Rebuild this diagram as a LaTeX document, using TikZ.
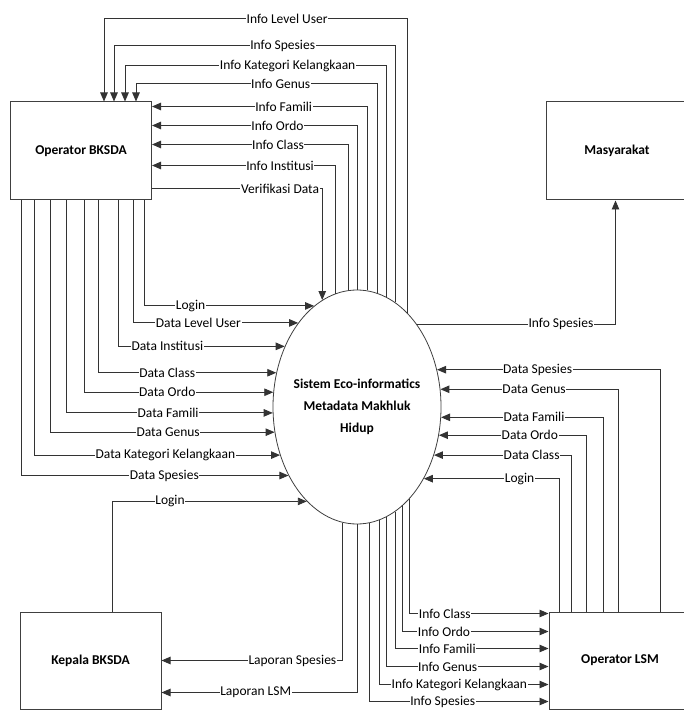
\documentclass[tikz,border=0pt]{standalone}
\usepackage{fontspec}
\setmainfont{Carlito}
\usetikzlibrary{arrows.meta,positioning,shapes.geometric}

\begin{document}
\begin{tikzpicture}[
    x=1pt, y=-1pt,
    ent/.style={draw=black!75, line width=1pt, minimum width=141pt, minimum height=98pt, font=\fontsize{13.5}{16}\selectfont\bfseries},
    proc/.style={draw=black!75, line width=0.8pt, ellipse, minimum width=168pt, minimum height=234pt, inner sep=0pt},
    flow/.style={draw=black!80, line width=0.9pt, -{Triangle[length=9pt,width=7.5pt]}},
    lbl/.style={fill=white, inner sep=0.6pt, font=\fontsize{13.5}{16}\selectfont}
]
\useasboundingbox (0,0) rectangle (684,711);
\clip (0,0) rectangle (684,711);
\fill[white] (0,0) rectangle (684,711);

% entities and process
\node[ent] (opb) at (81,151) {Operator BKSDA};
\node[ent, minimum width=142pt] (mas) at (617,151) {Masyarakat};
\node[ent, minimum height=97pt] (kep) at (90.5,660.5) {Kepala BKSDA};
\node[ent, minimum width=142pt, minimum height=97pt] (lsm) at (620,660.5) {Operator LSM};
\node[proc] (sys) at (357,407) {};
\node[font=\fontsize{13.5}{22}\selectfont\bfseries, align=center] (systxt) at (sys.center) {Sistem Eco-informatics\\Metadata Makhluk\\Hidup};

% Operator BKSDA -> sistem
\foreach \dx/\ang/\p/\txt in {134/113.6/0.637/Login, 123/125.5/0.698/Data Level User,
    108/140.9/0.648/Data Institusi, 88/157.1/0.694/Data Class, 74/170.5/0.72/Data Ordo,
    56/184.1/0.747/Data Famili, 40/197.6/0.763/Data Genus,
    24/212.1/0.767/Data Kategori Kelangkaan, 11/225.5/0.768/Data Spesies}
  \draw[flow] ([xshift=\dx]opb.south west) |- node[lbl, pos=\p] {\txt} (sys.\ang);

% sistem -> Operator BKSDA (top)
\foreach \ang/\dx/\up/\p/\txt in {62.7/94/83/0.698/Info Level User, 70.6/104/56/0.70/Info Spesies,
    75.8/115/36/0.689/Info Kategori Kelangkaan, 80.5/126/18/0.70/Info Genus}
  \draw[flow] (sys.\ang) |- node[lbl, pos=\p] {\txt} ([xshift=\dx, yshift=\up]opb.north west) -- ([xshift=\dx]opb.north west);

% sistem -> Operator BKSDA (side)
\foreach \ang/\dn/\p/\txt in {85.1/5/0.694/Info Famili, 90/24/0.694/Info Ordo,
    94.4/43/0.68/Info Class, 101.6/64/0.65/Info Institusi}
  \draw[flow] (sys.\ang) |- node[lbl, pos=\p] {\txt} ([yshift=-\dn]opb.north east);

\draw[flow] ([yshift=-87]opb.north east) -| node[lbl, pos=0.376] {Verifikasi Data} (sys.108.8);

% sistem -> Masyarakat
\draw[flow] (sys.54.5) -| node[lbl, pos=0.3625] {Info Spesies} ([xshift=70]mas.south west);

% Operator LSM -> sistem
\foreach \dx/\ang/\p/\txt in {112/25.6/0.775/Data Spesies, 70/12.2/0.737/Data Genus,
    55/353.9/0.714/Data Famili, 38/341.7/0.692/Data Ordo, 23/328.6/0.645/Data Class, 11/313.9/0.647/Login}
  \draw[flow] ([xshift=\dx]lsm.north west) |- node[lbl, pos=\p] {\txt} (sys.\ang);

% sistem -> Operator LSM
\foreach \ang/\dn/\p/\txt in {300.3/2/0.626/Info Class, 295.9/20/0.641/Info Ordo,
    290.6/37/0.67/Info Famili, 285.9/55/0.689/Info Genus,
    281.6/73/0.737/Info Kategori Kelangkaan, 276.9/90/0.705/Info Spesies}
  \draw[flow] (sys.\ang) |- node[lbl, pos=\p] {\txt} ([yshift=-\dn]lsm.north west);

% Kepala BKSDA
\draw[flow] ([xshift=22]kep.north) |- node[lbl, pos=0.648] {Login} (sys.242.7);
\draw[flow] (sys.263.6) |- node[lbl, pos=0.639] {Laporan Spesies} ([yshift=-49]kep.north east);
\draw[flow] (sys.270.5) |- node[lbl, pos=0.759] {Laporan LSM} ([yshift=-81]kep.north east);
\end{tikzpicture}
\end{document}
